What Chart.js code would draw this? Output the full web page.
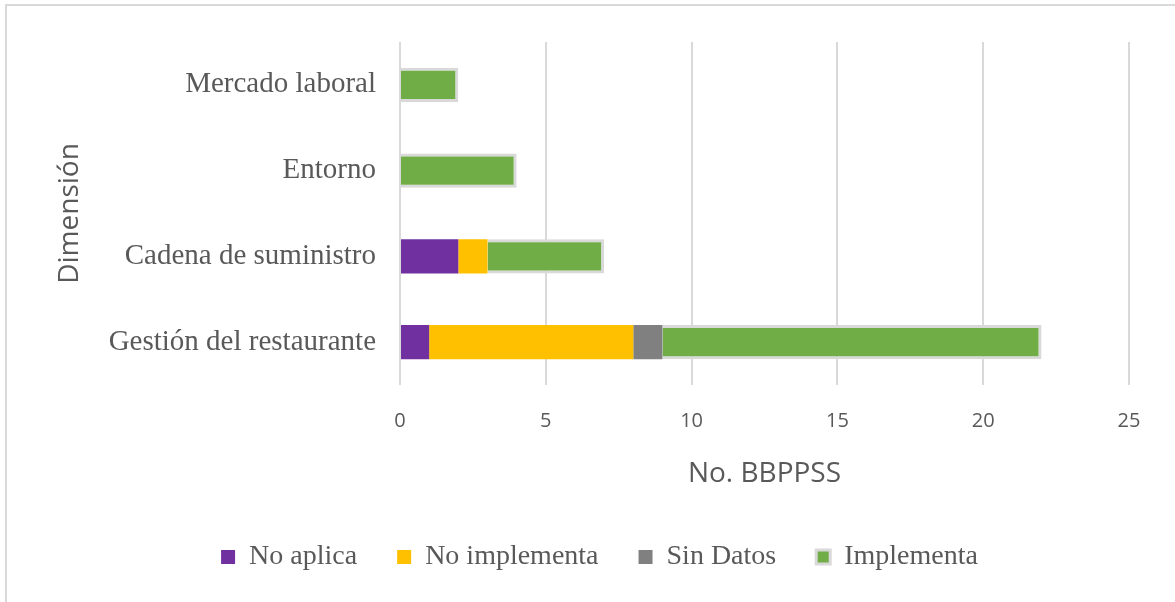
<!DOCTYPE html>
<html>
<head>
<meta charset="utf-8">
<script src="https://cdn.jsdelivr.net/npm/chart.js@4"></script>
<style>
    html, body { margin: 0; padding: 0; background: #fff; }
    #frame {
        position: absolute; left: 5px; top: 4px; width: 1170px; height: 598px;
        border-left: 2px solid #d9d9d9; border-top: 2px solid #d9d9d9;
    }
    #wrap { position: absolute; left: 0; top: 0; width: 1175px; height: 602px; }
</style>
</head>
<body>
<div id="frame"></div>
<div id="wrap"><canvas id="barChart" width="1175" height="602"></canvas></div>
<script>
// categories from top to bottom as shown in the chart
const dimensions = ['Mercado laboral', 'Entorno', 'Cadena de suministro', 'Gestión del restaurante'];
const noAplica = [0, 0, 2, 1];
const noImplementa = [0, 0, 1, 7];
const sinDatos = [0, 0, 0, 1];
const implementa = [2, 4, 4, 13];
const xTicks = [0, 5, 10, 15, 20, 25];

const serif = '"Liberation Serif", "DejaVu Serif", serif';
const sans = '"Open Sans", "Noto Sans", sans-serif';
const textGray = '#595959';

// the legend sits centred on the whole picture, not on the padded box
const shiftLegend = {
    id: 'shiftLegend',
    beforeDraw(chart) {
        const lg = chart.legend;
        if (lg && !lg._shifted) {
            lg.left += 35;
            lg.right += 35;
            lg._shifted = true;
        }
    }
};

document.addEventListener('DOMContentLoaded', () => {
    const ctx = document.getElementById('barChart').getContext('2d');
    new Chart(ctx, {
        type: 'bar',
        data: {
            labels: dimensions,
            datasets: [
                { label: 'No aplica', data: noAplica, backgroundColor: '#7030a0', borderWidth: 0 },
                { label: 'No implementa', data: noImplementa, backgroundColor: '#ffc000', borderWidth: 0 },
                { label: 'Sin Datos', data: sinDatos, backgroundColor: '#808080', borderWidth: 0 },
                { label: 'Implementa', data: implementa, backgroundColor: '#70ad47', borderColor: '#d9d9d9', borderWidth: 3 }
            ]
        },
        plugins: [shiftLegend],
        options: {
            responsive: false,
            animation: false,
            indexAxis: 'y',
            categoryPercentage: 0.4,
            barPercentage: 1,
            layout: { padding: { left: 0, right: 46, top: 42, bottom: 21 } },
            plugins: {
                tooltip: { enabled: false },
                legend: {
                    position: 'bottom',
                    labels: {
                        boxWidth: 14,
                        boxHeight: 14,
                        padding: 40,
                        color: textGray,
                        font: { family: serif, size: 28 }
                    }
                }
            },
            scales: {
                x: {
                    stacked: true,
                    min: 0,
                    max: 25,
                    afterBuildTicks: (axis) => { axis.ticks = xTicks.map(v => ({ value: v })); },
                    afterFit: (axis) => { axis.height = 118; },
                    grid: { color: '#d9d9d9', lineWidth: 2, drawTicks: false },
                    border: { display: false },
                    ticks: { color: textGray, padding: 24, font: { family: sans, size: 20 } },
                    title: {
                        display: true,
                        text: 'No. BBPPSS',
                        color: textGray,
                        font: { family: sans, size: 28 },
                        padding: { top: 0, bottom: 12 }
                    }
                },
                y: {
                    stacked: true,
                    afterFit: (axis) => { axis.width = 400; },
                    grid: { display: false },
                    border: { display: false },
                    ticks: { color: textGray, padding: 16, font: { family: serif, size: 29 } },
                    title: {
                        display: true,
                        text: 'Dimensión',
                        color: textGray,
                        font: { family: sans, size: 28 },
                        padding: { top: 53, bottom: 0 }
                    }
                }
            }
        }
    });
});
</script>
</body>
</html>
